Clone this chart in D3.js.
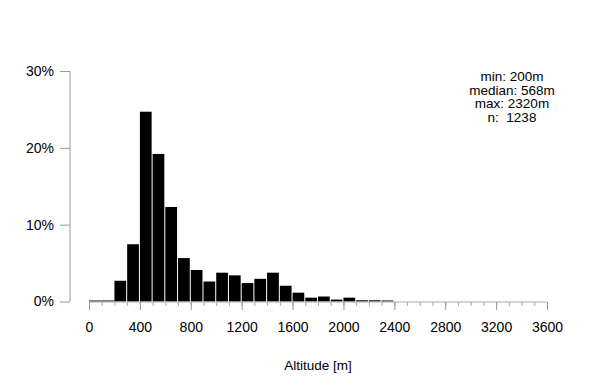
<!DOCTYPE html>
<html>
<head>
<meta charset="utf-8">
<script src="https://cdn.jsdelivr.net/npm/d3@7"></script>
<style>
  body { margin: 0; background: #fff; }
  svg text { font-family: "Liberation Sans", Arial, sans-serif; fill: #000; }
</style>
</head>
<body>
<svg id="chart" width="600" height="390"></svg>
<script>
const svg = d3.select("#chart");

// histogram bins, 100 m wide, starting at 0 m (percent of all sites)
const binStart = [0, 100, 200, 300, 400, 500, 600, 700, 800, 900, 1000, 1100,
                  1200, 1300, 1400, 1500, 1600, 1700, 1800, 1900, 2000, 2100, 2200, 2300];
const binPercent = [0, 0, 2.7, 7.45, 24.7, 19.2, 12.3, 5.65, 4.1, 2.6, 3.75, 3.4,
                    2.4, 2.95, 3.75, 2.05, 1.15, 0.5, 0.65, 0.25, 0.5, 0.16, 0.16, 0.1];
const binWidth = 100;

const yTicks = [0, 10, 20, 30];
const xMajor = [0, 400, 800, 1200, 1600, 2000, 2400, 2800, 3200, 3600];
const xMinor = d3.range(0, 3601, 100);

const statsLines = ["min: 200m", "median: 568m", "max: 2320m", "n:  1238"];

const x = d3.scaleLinear().domain([0, 3600]).range([89, 547]);
const y = d3.scaleLinear().domain([0, 30]).range([301.5, 71]);

const labelFont = "14px";

// bars (empty bins still leave a thin dark line on the baseline)
svg.append("g")
  .selectAll("rect")
  .data(binStart)
  .join("rect")
    .attr("x", (d) => x(d))
    .attr("width", (d, i) => x(d + binWidth) - x(d) - (binPercent[i] > 0 ? 1 : 0))
    .attr("y", (d, i) => Math.min(y(binPercent[i]), y(0) - 1))
    .attr("height", (d, i) => Math.max(y(0) - y(binPercent[i]), 1))
    .attr("fill", "#000");

// y axis
const yAxis = svg.append("g")
  .attr("transform", "translate(70,0)")
  .call(d3.axisLeft(y).tickValues(yTicks).tickSize(10).tickPadding(6).tickFormat(d => d + "%"));
yAxis.selectAll("line, path").attr("stroke", "#999");
yAxis.select(".domain").attr("d", `M0,${y(30)}V${y(0)}`);
yAxis.selectAll("text")
  .style("font-size", labelFont)
  .style("font-family", "'Liberation Sans', Arial, sans-serif")
  .attr("fill", "#000");

// x axis: minor ticks every 100 m, labelled every 400 m
const xAxisMinor = svg.append("g")
  .attr("transform", "translate(0,302)")
  .call(d3.axisBottom(x).tickValues(xMinor).tickSize(4).tickFormat(""));
xAxisMinor.selectAll("line, path").attr("stroke", "#aaa");
xAxisMinor.select(".domain").attr("d", `M${x(0)},0H${x(3600)}`);

const xAxis = svg.append("g")
  .attr("transform", "translate(0,302)")
  .call(d3.axisBottom(x).tickValues(xMajor).tickSize(8).tickPadding(12).tickFormat(d3.format("d")));
xAxis.select(".domain").remove();
xAxis.selectAll("line").attr("stroke", "#999");
xAxis.selectAll("text")
  .style("font-size", labelFont)
  .style("font-family", "'Liberation Sans', Arial, sans-serif")
  .attr("fill", "#000");

svg.append("text")
  .attr("x", 318)
  .attr("y", 370)
  .attr("text-anchor", "middle")
  .style("font-size", "13.5px")
  .text("Altitude [m]");

// summary box
svg.append("g")
  .selectAll("text")
  .data(statsLines)
  .join("text")
    .attr("x", 512)
    .attr("y", (d, i) => 81 + i * 13.6)
    .attr("text-anchor", "middle")
    .style("font-size", "13.5px")
    .style("white-space", "pre")
    .text(d => d);
</script>
</body>
</html>
